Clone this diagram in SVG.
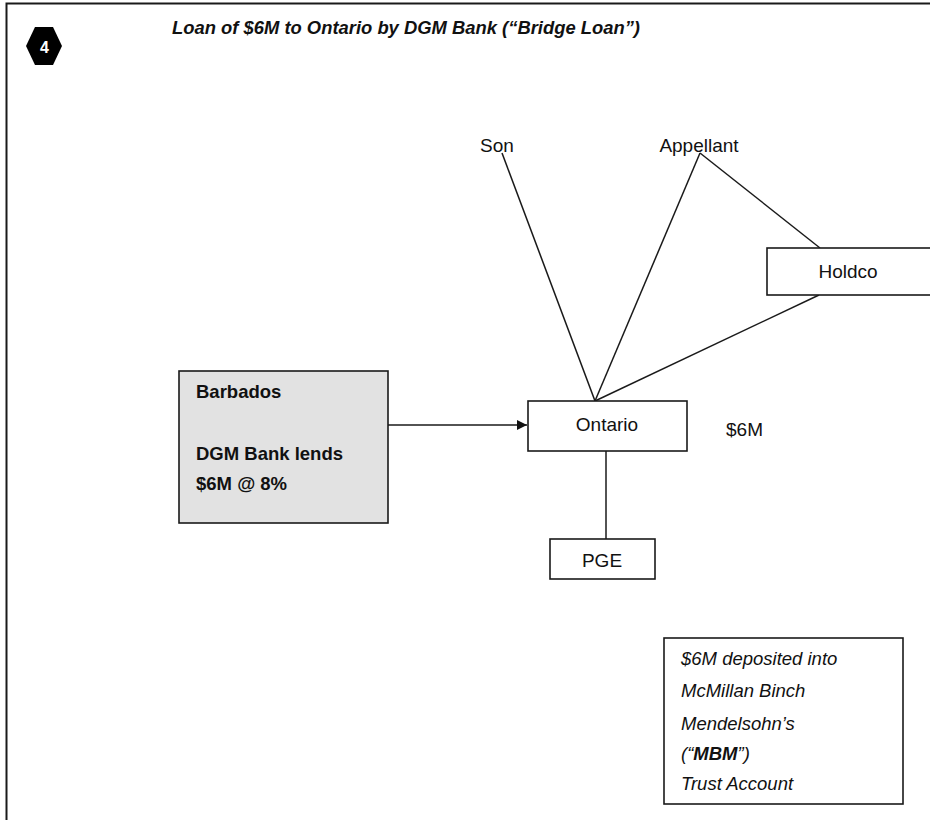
<svg xmlns="http://www.w3.org/2000/svg" width="930" height="820" viewBox="0 0 930 820">
  <style>
    .box { fill: #ffffff; stroke: #1a1a1a; stroke-width: 1.6; }
    .shaded { fill: #e2e2e2; stroke: #1a1a1a; stroke-width: 1.6; }
    .line { stroke: #1a1a1a; stroke-width: 1.5; fill: none; }
    .lbl { font-family: "Liberation Sans", Arial, sans-serif; font-size: 19px; fill: #111111; }
    .bold { font-family: "Liberation Sans", Arial, sans-serif; font-size: 18.5px; font-weight: bold; fill: #111111; }
    .note { font-family: "Liberation Sans", Arial, sans-serif; font-size: 18.5px; font-style: italic; fill: #111111; }
  </style>
  <defs>
    <marker id="arrow" viewBox="0 0 10 10" refX="10" refY="5" markerWidth="11" markerHeight="10" markerUnits="userSpaceOnUse" orient="auto">
      <path d="M0,0 L10,5 L0,10 z" fill="#111111"/>
    </marker>
  </defs>

  <rect width="930" height="820" fill="#ffffff"/>
  <!-- page frame -->
  <rect x="6.5" y="3.5" width="1000" height="1000" fill="none" stroke="#1a1a1a" stroke-width="2"/>

  <!-- step badge and heading -->
  <g id="badge">
    <polygon points="26,46 35,27 53,27 62,46 53,65 35,65" fill="#000000"/>
    <text x="44.5" y="52.5" text-anchor="middle" font-family="Liberation Sans, Arial, sans-serif" font-size="16" font-weight="bold" fill="#ffffff">4</text>
  </g>
  <g id="title">
    <text x="172" y="34" font-family="Liberation Sans, Arial, sans-serif" font-size="19" font-weight="bold" font-style="italic" fill="#111111" textLength="468" lengthAdjust="spacingAndGlyphs">Loan of $6M to Ontario by DGM Bank (“Bridge Loan”)</text>
  </g>

  <!-- connectors -->
  <g id="connectors">
    <line class="line" x1="502" y1="153" x2="595" y2="401"/>
    <line class="line" x1="700" y1="153" x2="595" y2="401"/>
    <line class="line" x1="700" y1="153" x2="820" y2="248"/>
    <line class="line" x1="819" y1="295" x2="595" y2="401"/>
    <line class="line" x1="606" y1="451" x2="606" y2="539"/>
    <line class="line" x1="388" y1="425" x2="527" y2="425" marker-end="url(#arrow)"/>
  </g>

  <g id="son">
    <text class="lbl" x="497" y="152" text-anchor="middle">Son</text>
  </g>
  <g id="appellant">
    <text class="lbl" x="699" y="152" text-anchor="middle">Appellant</text>
  </g>
  <g id="holdco">
    <rect class="box" x="767" y="248" width="180" height="47"/>
    <text class="lbl" x="848" y="278" text-anchor="middle">Holdco</text>
  </g>
  <g id="ontario">
    <rect class="box" x="528" y="401" width="159" height="50"/>
    <text class="lbl" x="607" y="431" text-anchor="middle">Ontario</text>
  </g>
  <g id="amount">
    <text class="lbl" x="726" y="436">$6M</text>
  </g>
  <g id="pge">
    <rect class="box" x="550" y="539" width="105" height="40"/>
    <text class="lbl" x="602" y="567" text-anchor="middle">PGE</text>
  </g>
  <g id="barbados">
    <rect class="shaded" x="179" y="371" width="209" height="152"/>
    <text class="bold" x="196" y="398">Barbados</text>
    <text class="bold" x="196" y="460">DGM Bank lends</text>
    <text class="bold" x="196" y="490">$6M @ 8%</text>
  </g>
  <g id="mbm">
    <rect class="box" x="664" y="638" width="239" height="166"/>
    <text class="note" x="681" y="665">$6M deposited into</text>
    <text class="note" x="681" y="697">McMillan Binch</text>
    <text class="note" x="681" y="730">Mendelsohn’s</text>
    <text class="note" x="681" y="760">(“<tspan font-weight="bold">MBM</tspan>”)</text>
    <text class="note" x="681" y="790">Trust Account</text>
  </g>
</svg>
